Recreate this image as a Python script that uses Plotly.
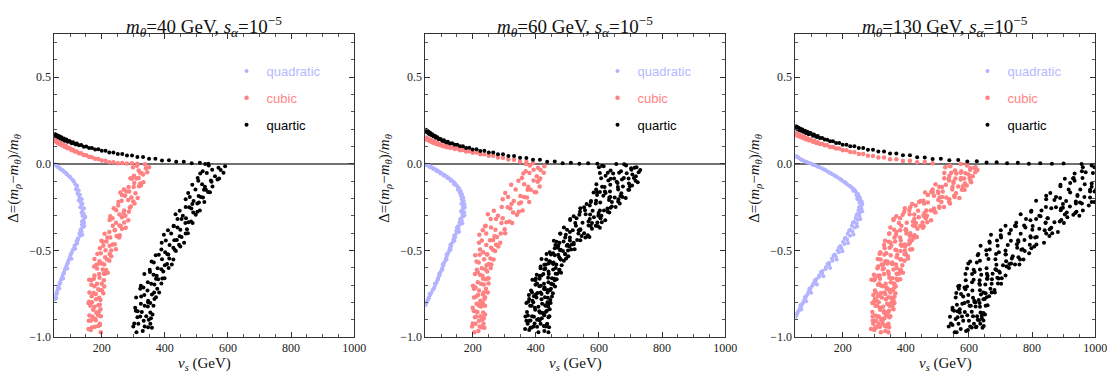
import plotly.graph_objects as go

# ---------------- data ----------------
# vertical positions (Delta) of the sampled points in the bands, two scatter sets
band_y_a = [-0.011,-0.002,-0.020,-0.039,-0.025,-0.019,-0.052,-0.048,-0.069,-0.054,
-0.085,-0.062,-0.083,-0.082,-0.106,-0.086,-0.113,-0.133,-0.110,-0.125,
-0.148,-0.133,-0.130,-0.160,-0.170,-0.166,-0.160,-0.197,-0.180,-0.195,
-0.184,-0.218,-0.220,-0.209,-0.229,-0.213,-0.253,-0.241,-0.270,-0.246,
-0.257,-0.284,-0.277,-0.268,-0.299,-0.303,-0.292,-0.326,-0.314,-0.309,
-0.340,-0.339,-0.324,-0.356,-0.369,-0.357,-0.359,-0.393,-0.382,-0.375,
-0.404,-0.384,-0.412,-0.426,-0.417,-0.444,-0.425,-0.425,-0.450,-0.466,
-0.449,-0.465,-0.488,-0.473,-0.493,-0.473,-0.500,-0.516,-0.499,-0.533,
-0.520,-0.540,-0.521,-0.563,-0.553,-0.550,-0.575,-0.559,-0.582,-0.581,
-0.575,-0.613,-0.593,-0.610,-0.629,-0.604,-0.635,-0.645,-0.636,-0.635,
-0.672,-0.658,-0.672,-0.664,-0.693,-0.670,-0.693,-0.709,-0.698,-0.729,
-0.707,-0.730,-0.743,-0.724,-0.747,-0.746,-0.773,-0.764,-0.752,-0.786,
-0.796,-0.782,-0.814,-0.800,-0.816,-0.803,-0.826,-0.840,-0.820,-0.862,
-0.842,-0.854,-0.876,-0.858,-0.880,-0.883,-0.875,-0.904,-0.896,-0.924,
-0.906,-0.903,-0.931,-0.945,-0.937,-0.954,-0.941,-0.973,-0.960]
band_y_b = [-0.001,-0.023,-0.014,-0.009,-0.035,-0.055,-0.034,-0.052,-0.043,-0.072,
-0.053,-0.090,-0.081,-0.096,-0.084,-0.118,-0.103,-0.097,-0.132,-0.131,
-0.120,-0.149,-0.164,-0.148,-0.150,-0.168,-0.186,-0.163,-0.192,-0.191,
-0.214,-0.194,-0.204,-0.229,-0.221,-0.251,-0.223,-0.249,-0.232,-0.270,
-0.271,-0.258,-0.277,-0.300,-0.281,-0.291,-0.314,-0.294,-0.318,-0.337,
-0.318,-0.333,-0.360,-0.342,-0.341,-0.367,-0.377,-0.357,-0.380,-0.401,
-0.384,-0.418,-0.402,-0.402,-0.423,-0.410,-0.441,-0.455,-0.442,-0.440,
-0.469,-0.467,-0.456,-0.485,-0.477,-0.511,-0.496,-0.494,-0.523,-0.503,
-0.528,-0.522,-0.553,-0.525,-0.547,-0.564,-0.551,-0.581,-0.570,-0.585,
-0.603,-0.579,-0.611,-0.608,-0.601,-0.640,-0.621,-0.625,-0.646,-0.661,
-0.636,-0.664,-0.662,-0.684,-0.667,-0.704,-0.693,-0.691,-0.714,-0.697,
-0.731,-0.722,-0.721,-0.754,-0.743,-0.758,-0.743,-0.766,-0.790,-0.770,
-0.772,-0.800,-0.780,-0.808,-0.804,-0.831,-0.820,-0.820,-0.852,-0.824,
-0.856,-0.858,-0.848,-0.880,-0.870,-0.881,-0.901,-0.886,-0.906,-0.892,
-0.922,-0.939,-0.923,-0.923,-0.943,-0.940,-0.965,-0.947,-0.972]

# ---- m_theta = 40 GeV ----
quad_x_40 = [52,55,58,62,66,70,75,80,86,90,96,101,107,112,116,121,118,125,123,128,
131,127,134,136,132,140,138,143,139,146,141,144,137,140,134,136,129,131,124,120,
122,114,112,108,105,101,99,95,93,89,86,83,80,77,74,71,68,65,62,60,57,55,53,51]
quad_y_40 = [-0.002,-0.008,-0.012,-0.018,-0.022,-0.031,-0.036,-0.045,-0.052,-0.060,
-0.071,-0.079,-0.092,-0.104,-0.118,-0.133,-0.146,-0.158,-0.171,-0.186,
-0.199,-0.212,-0.224,-0.238,-0.251,-0.262,-0.276,-0.288,-0.301,-0.312,
-0.327,-0.339,-0.352,-0.366,-0.378,-0.391,-0.404,-0.417,-0.431,-0.446,
-0.458,-0.472,-0.486,-0.498,-0.512,-0.526,-0.541,-0.556,-0.568,-0.583,
-0.597,-0.612,-0.627,-0.641,-0.655,-0.669,-0.684,-0.698,-0.712,-0.727,
-0.741,-0.756,-0.770,-0.783]
quad2_x_40 = [54,60,68,78,88,99,110,122,127,131,137,139,144,136,148,137,145,132,139,125,
118,116,103,104,92,91,80,78,68,66,58,56]
quad2_y_40 = [-0.005,-0.016,-0.028,-0.040,-0.057,-0.075,-0.097,-0.125,-0.152,-0.178,
-0.205,-0.231,-0.256,-0.282,-0.306,-0.333,-0.359,-0.385,-0.410,-0.438,
-0.465,-0.491,-0.519,-0.548,-0.575,-0.604,-0.633,-0.662,-0.690,-0.719,-0.748,-0.776]
cubic_curve_x_40 = [51,53,55,57,60,63,66,69,72,76,80,84,88,93,98,103,109,115,121,128,
135,143,151,160,169,179,189,200,212,224,237,251,265,280,296,313,52,56,61,67,74,82,91,106]
cubic_curve_y_40 = [0.142,0.134,0.137,0.129,0.131,0.122,0.124,0.116,0.118,0.108,
0.109,0.100,0.102,0.092,0.092,0.083,0.082,0.072,0.071,0.061,
0.061,0.051,0.049,0.039,0.038,0.029,0.028,0.019,0.018,0.010,
0.010,0.004,0.005,0.002,0.003,0.001,0.131,0.127,0.121,0.113,0.107,0.099,0.090,0.078]
quartic_curve_x_40 = [51,53,55,57,60,63,66,69,72,76,80,84,88,93,98,103,109,115,121,128,
135,143,151,160,169,179,189,200,212,224,237,251,265,280,296,313,331,350,370,391,
413,436,460,485,511,538,52,56,62,68,75,83,92,105,118]
quartic_curve_y_40 = [0.172,0.165,0.168,0.161,0.164,0.156,0.159,0.151,0.154,0.145,
0.147,0.138,0.140,0.131,0.132,0.123,0.125,0.116,0.117,0.108,
0.109,0.099,0.100,0.091,0.092,0.083,0.084,0.075,0.075,0.066,
0.066,0.057,0.057,0.048,0.048,0.039,0.039,0.030,0.030,0.020,
0.021,0.012,0.012,0.004,0.006,0.000,0.163,0.160,0.153,0.148,0.141,0.134,0.127,0.119,0.112]
cubic_band_x_40 = [312,337,350,317,340,299,322,344,302,326,
310,331,291,317,332,296,322,285,303,324,
270,301,318,278,307,259,287,314,264,294,
274,300,253,284,304,263,289,252,271,292,
238,269,286,246,275,227,256,284,234,264,
245,271,225,256,276,235,260,224,242,264,
209,241,257,218,247,199,227,255,204,235,
215,241,194,225,245,205,230,197,212,230,
186,211,225,193,217,177,201,224,183,208,
192,214,176,203,219,185,207,177,192,210,
167,193,207,175,200,160,185,208,167,193,
177,200,161,189,205,174,192,168,181,196,
160,182,194,169,189,158,177,196,164,185,
173,191,161,183,197,171,189,166,179,194,
159,181,194,169,189,158,178,197,165]
quartic_band_x_40 = [528,570,591,539,577,512,550,586,520,559,
533,567,504,546,572,518,548,506,527,551,
487,524,543,497,530,474,507,537,479,514,
491,521,466,503,525,477,508,466,487,511,
447,484,503,457,490,434,467,498,440,475,
453,483,428,465,488,440,470,428,449,473,
410,447,466,420,453,397,430,461,403,438,
415,445,390,427,449,401,431,389,411,435,
371,408,427,381,414,358,391,422,365,400,
377,407,352,389,412,364,395,353,374,399,
335,372,392,346,379,324,357,389,332,367,
345,376,322,359,382,335,366,325,347,372,
309,347,367,324,354,306,336,364,314,346,
327,354,308,341,361,322,349,313,333,356,
303,336,354,316,347,300,330,359,310]

# ---- m_theta = 60 GeV ----
quad_x_60 = [51,56,61,66,72,77,83,88,94,99,105,110,116,121,127,132,137,143,140,149,
152,157,153,162,159,166,163,170,165,172,167,174,169,171,166,173,167,170,163,165,
158,161,153,155,148,150,143,145,139,138,133,131,127,125,121,119,115,113,109,107,
103,101,97,95,91,88,85,81,78,73,69,65,61,57,54,51]
quad_y_60 = [-0.003,-0.006,-0.011,-0.015,-0.022,-0.027,-0.033,-0.039,-0.045,-0.052,
-0.058,-0.065,-0.071,-0.078,-0.086,-0.093,-0.101,-0.109,-0.117,-0.124,
-0.133,-0.141,-0.150,-0.158,-0.167,-0.176,-0.186,-0.195,-0.205,-0.214,
-0.224,-0.235,-0.246,-0.257,-0.268,-0.279,-0.291,-0.302,-0.314,-0.326,
-0.338,-0.349,-0.361,-0.373,-0.386,-0.398,-0.411,-0.423,-0.436,-0.449,
-0.462,-0.476,-0.489,-0.503,-0.517,-0.531,-0.545,-0.559,-0.573,-0.587,
-0.601,-0.615,-0.629,-0.644,-0.658,-0.672,-0.686,-0.700,-0.715,-0.729,
-0.744,-0.758,-0.772,-0.787,-0.802,-0.815]
quad2_x_60 = [53,64,75,86,97,108,119,130,144,155,161,168,164,175,163,174,160,167,150,157,
141,142,129,130,117,117,105,104,93,90,80,76,63,60,55]
quad2_y_60 = [-0.008,-0.020,-0.030,-0.043,-0.056,-0.069,-0.082,-0.097,-0.121,-0.146,
-0.171,-0.200,-0.230,-0.252,-0.274,-0.297,-0.320,-0.343,-0.367,-0.392,
-0.417,-0.443,-0.469,-0.496,-0.524,-0.552,-0.580,-0.608,-0.636,-0.665,
-0.693,-0.722,-0.751,-0.780,-0.795]
cubic_curve_x_60 = [51,53,55,57,60,63,66,69,72,76,80,84,88,93,98,103,109,115,121,128,
135,143,151,160,169,179,189,200,212,224,237,251,265,280,296,313,331,350,370,391,
52,56,62,68,75,83,92,106,118]
cubic_curve_y_60 = [0.152,0.145,0.148,0.141,0.143,0.136,0.138,0.130,0.133,0.124,
0.126,0.118,0.121,0.112,0.113,0.105,0.107,0.099,0.101,0.093,
0.095,0.086,0.088,0.079,0.080,0.072,0.073,0.064,0.065,0.056,
0.056,0.047,0.047,0.036,0.035,0.025,0.024,0.013,0.011,0.003,
0.143,0.139,0.134,0.128,0.122,0.116,0.110,0.101,0.096]
quartic_curve_x_60 = [51,53,55,57,60,63,66,69,72,76,80,84,88,93,98,103,109,115,121,128,
135,143,151,160,169,179,189,200,212,224,237,251,265,280,296,313,331,350,370,391,
413,436,460,485,511,538,566,595,52,56,62,68,75,83,92,106,118]
quartic_curve_y_60 = [0.197,0.189,0.192,0.184,0.185,0.176,0.178,0.169,0.171,0.161,
0.162,0.153,0.154,0.144,0.144,0.135,0.136,0.126,0.127,0.118,
0.119,0.110,0.111,0.101,0.102,0.092,0.093,0.083,0.084,0.074,
0.075,0.065,0.065,0.055,0.055,0.045,0.045,0.035,0.034,0.023,
0.023,0.012,0.013,0.004,0.006,0.001,0.003,0.001,
0.185,0.181,0.173,0.166,0.159,0.151,0.143,0.132,0.124]
cubic_band_x_60 = [369,407,427,381,415,360,393,425,368,403,
380,411,356,393,414,363,406,345,376,412,
322,374,401,336,384,303,351,396,312,363,
330,372,295,347,379,311,353,292,323,358,
267,319,346,280,328,248,295,340,257,307,
274,317,239,291,325,258,301,241,272,303,
232,269,289,243,277,221,255,287,229,265,
243,274,220,258,281,233,264,223,245,271,
208,246,266,222,256,212,236,259,219,244,
229,251,213,240,257,223,246,216,231,250,
207,233,248,216,241,201,226,250,209,235,
220,242,204,232,248,217,235,211,224,239,
204,225,237,212,232,200,220,239,207,227,
215,233,203,225,239,212,230,207,220,235,
200,222,234,209,229,198,218,237,205]
quartic_band_x_60a = [610,680,719,637,702,600,664,726,621,688,
648,706,607,679,723,637,695,618,659,705,
591,660,698,619,671,583,635,685,594,650,
614,661,574,632,666,591,637,571,603,641,
541,599,628,556,608,520,572,620,529,584,
548,595,509,567,603,527,574,508,541,578,
478,536,565,493,545,457,508,557,466,514,
488,520,460,498,523,471,502,455,477,503,
434,474,493,443,479,418,455,489,427,465,
441,474,415,455,480,430,463,418,441,468,
398,439,460,412,449,389,426,461,399,438,
411,445,388,428,454,405,438,394,418,446,
376,418,439,392,430,370,408,444,382,422,
398,432,375,416,443,394,427,383,408,436,
370,412,434,387,425,366,404,440,379]
quartic_band_x_60b = [655,713,615,686,731,645,703,628,670,717,
603,673,711,630,694,592,656,716,610,676,
636,693,594,661,696,621,668,603,636,675,
575,633,662,590,641,553,604,653,561,616,
580,627,540,598,633,558,605,538,571,609,
509,567,597,525,578,489,541,590,499,553,
517,564,477,535,570,495,541,475,508,531,
462,501,520,470,506,444,479,512,448,486,
460,493,433,471,496,445,478,432,456,482,
415,455,475,427,463,403,440,475,412,451,
424,458,400,440,466,416,449,404,428,455,
385,426,448,400,437,378,415,451,389,429,
402,437,379,420,447,397,431,387,411,439,
372,413,435,388,426,367,404,440,379,419,
396,431,374,415,442,393,427,383,408]

# ---- m_theta = 130 GeV ----
quad_x_130 = [51,55,59,63,68,73,78,84,90,96,102,108,114,120,127,133,139,145,151,156,
162,167,173,178,183,189,194,199,205,210,215,221,226,231,236,233,242,246,243,251,
255,249,258,253,262,255,259,250,256,247,253,241,248,236,244,229,238,224,231,216,
223,209,214,201,206,193,196,184,188,175,178,166,168,157,157,147,146,136,135,126,
124,116,114,107,104,99,96,92,89,85,82,78,75,71,68,64,61,57,54,51]
quad_y_130 = [0.047,0.041,0.036,0.031,0.025,0.021,0.016,0.012,0.007,0.003,
-0.001,-0.006,-0.010,-0.015,-0.020,-0.025,-0.031,-0.036,-0.042,-0.048,
-0.054,-0.060,-0.066,-0.072,-0.078,-0.085,-0.091,-0.098,-0.105,-0.112,
-0.119,-0.126,-0.133,-0.140,-0.148,-0.156,-0.163,-0.171,-0.180,-0.188,
-0.197,-0.206,-0.215,-0.225,-0.235,-0.246,-0.257,-0.268,-0.279,-0.290,
-0.301,-0.312,-0.323,-0.334,-0.345,-0.357,-0.368,-0.380,-0.391,-0.403,
-0.415,-0.427,-0.439,-0.451,-0.463,-0.475,-0.487,-0.499,-0.511,-0.523,
-0.535,-0.547,-0.559,-0.571,-0.583,-0.595,-0.607,-0.619,-0.631,-0.643,
-0.655,-0.667,-0.679,-0.691,-0.703,-0.715,-0.727,-0.739,-0.751,-0.763,
-0.775,-0.787,-0.799,-0.811,-0.823,-0.835,-0.847,-0.859,-0.871,-0.883]
quad2_x_130 = [57,70,87,105,124,142,159,176,192,208,224,238,249,246,261,252,262,244,256,232,
246,220,234,206,217,189,199,171,181,152,160,131,139,111,118,94,100,80,84,66,69,55]
quad2_y_130 = [0.039,0.023,0.010,-0.004,-0.018,-0.033,-0.051,-0.069,-0.088,-0.108,
-0.130,-0.152,-0.176,-0.201,-0.220,-0.251,-0.274,-0.296,-0.318,-0.340,
-0.362,-0.386,-0.408,-0.433,-0.457,-0.481,-0.505,-0.529,-0.553,-0.577,
-0.601,-0.625,-0.649,-0.673,-0.697,-0.721,-0.745,-0.769,-0.793,-0.817,-0.841,-0.865]
cubic_curve_x_130 = [51,53,55,57,60,63,66,69,72,76,80,84,88,93,98,103,109,115,121,128,
135,143,151,160,169,179,189,200,212,224,237,251,265,280,296,313,331,350,370,391,
413,436,460,485,52,56,62,68,75,83,92,106,118]
cubic_curve_y_130 = [0.177,0.171,0.174,0.166,0.169,0.162,0.164,0.157,0.159,0.151,
0.153,0.145,0.147,0.139,0.140,0.132,0.133,0.124,0.125,0.115,
0.116,0.107,0.107,0.097,0.098,0.088,0.088,0.078,0.078,0.068,
0.067,0.057,0.057,0.047,0.046,0.036,0.036,0.026,0.027,0.017,
0.018,0.009,0.011,0.003,
0.167,0.164,0.159,0.154,0.149,0.142,0.136,0.127,0.120]
quartic_curve_x_130 = [51,53,55,57,60,63,66,69,72,76,80,84,88,93,98,103,109,115,121,128,
135,143,151,160,169,179,189,200,212,224,237,251,265,280,296,313,331,350,370,391,
413,436,460,485,511,538,566,595,625,656,688,721,755,790,826,863,900,
52,56,62,68,75,83,92,106,118]
quartic_curve_y_130 = [0.217,0.210,0.214,0.206,0.208,0.200,0.203,0.195,0.198,0.189,
0.191,0.183,0.186,0.177,0.178,0.170,0.170,0.160,0.161,0.150,
0.150,0.140,0.139,0.130,0.130,0.120,0.121,0.111,0.111,0.102,
0.102,0.092,0.092,0.082,0.082,0.072,0.071,0.060,0.060,0.049,
0.049,0.038,0.037,0.028,0.030,0.021,0.022,0.014,0.015,0.008,
0.010,0.003,0.006,0.001,0.004,0.000,0.002,
0.205,0.202,0.196,0.191,0.185,0.178,0.171,0.162,0.155]
cubic_band_x_130a = [539,592,621,556,605,525,574,620,538,589,
557,599,522,575,607,536,587,515,551,593,
485,548,581,502,559,461,517,570,470,528,
489,537,442,503,540,456,506,431,465,506,
397,459,491,411,467,370,427,480,382,441,
403,453,361,423,454,386,430,370,401,437,
347,400,428,364,413,334,382,428,346,397,
366,409,333,387,420,354,397,338,370,406,
317,371,400,335,385,311,355,396,323,369,
341,381,312,361,391,330,371,317,346,378,
300,348,374,318,362,291,336,368,312,348,
327,358,305,344,367,321,353,312,335,361,
299,337,358,314,348,294,328,361,304,341,
319,345,303,332,351,315,339,306,324,345,
295,326,341,306,334,290,318,345,300]
cubic_band_x_130b = [574,617,541,594,627,560,604,544,576,612,
522,574,602,537,585,494,551,605,506,566,
527,578,485,547,586,503,553,480,515,555,
447,507,538,458,513,414,470,521,420,479,
439,489,395,456,494,412,463,390,427,468,
361,423,457,378,432,351,400,446,363,414,
382,425,348,402,435,369,412,352,384,420,
331,384,413,349,398,319,367,414,332,383,
352,396,320,373,407,342,382,328,357,389,
310,358,384,327,371,299,344,385,312,358,
331,371,302,352,382,322,363,316,339,364,
302,340,361,317,351,297,332,364,308,345,
324,355,302,341,364,318,349,309,331,357,
294,331,347,311,338,295,322,348,303,332,
314,340,297,327,347,310,335,303,321]
quartic_band_x_130a = [957,1054,1105,989,1078,935,1023,1106,958,1050,
993,1070,932,1028,1088,967,1043,935,989,1052,
890,984,1034,916,1003,858,944,1025,876,966,
908,984,845,939,998,876,952,844,898,961,
798,892,941,823,910,764,850,931,781,871,
813,888,749,843,901,779,856,746,801,864,
701,795,845,728,815,670,756,838,689,776,
723,793,666,753,807,695,766,666,717,777,
628,716,762,656,736,604,684,760,625,708,
656,728,615,684,727,639,696,618,659,704,
589,657,694,610,673,570,633,692,586,652,
611,668,568,638,682,598,646,582,617,656,
558,618,650,579,634,548,602,653,564,621,
587,637,553,613,651,578,628,564,600,641,
543,604,636,567,622,536,591,643,555]
quartic_band_x_130b = [1020,1099,961,1057,1118,998,1077,970,1026,1091,
930,1025,1076,960,1048,904,989,1071,921,1011,
953,1029,890,984,1043,921,998,889,944,1007,
845,939,989,871,958,813,898,980,830,920,
861,937,797,891,950,827,904,795,849,912,
750,843,893,775,861,716,802,882,733,823,
764,840,701,796,855,733,810,702,757,814,
665,752,798,691,770,637,716,791,655,739,
686,757,630,718,773,662,734,635,687,746,
598,687,719,635,698,594,657,716,610,675,
634,690,590,659,702,615,672,594,635,681,
566,635,672,589,653,560,613,664,575,631,
597,646,562,621,659,586,635,571,606,646,
548,609,641,571,626,540,595,646,558,616,
582,632,548,609,647,574,624,561,597]

masses = ["40", "60", "130"]
series_names = ["quadratic", "cubic", "quartic"]
x_ticks = [200, 400, 600, 800, 1000]
y_ticks = [-1.0, -0.5, 0.0, 0.5]

# ---------------- assemble ----------------
for lst in [band_y_b, cubic_band_x_40, quartic_band_x_40, cubic_band_x_60, quartic_band_x_60a,
            quartic_band_x_60b, cubic_band_x_130a, cubic_band_x_130b,
            quartic_band_x_130a, quartic_band_x_130b]:
    assert len(lst) == len(band_y_a), len(lst)
for a, b in [(quad_x_40, quad_y_40), (quad_x_60, quad_y_60), (quad_x_130, quad_y_130),
             (quad2_x_40, quad2_y_40), (quad2_x_60, quad2_y_60), (quad2_x_130, quad2_y_130),
             (cubic_curve_x_40, cubic_curve_y_40), (cubic_curve_x_60, cubic_curve_y_60),
             (cubic_curve_x_130, cubic_curve_y_130), (quartic_curve_x_40, quartic_curve_y_40),
             (quartic_curve_x_60, quartic_curve_y_60), (quartic_curve_x_130, quartic_curve_y_130)]:
    assert len(a) == len(b), (len(a), len(b))

panel_data = [
    dict(quad=(quad_x_40 + quad2_x_40, quad_y_40 + quad2_y_40),
         cubic=(cubic_curve_x_40 + cubic_band_x_40, cubic_curve_y_40 + band_y_a),
         quartic=(quartic_curve_x_40 + quartic_band_x_40, quartic_curve_y_40 + band_y_b)),
    dict(quad=(quad_x_60 + quad2_x_60, quad_y_60 + quad2_y_60),
         cubic=(cubic_curve_x_60 + cubic_band_x_60, cubic_curve_y_60 + band_y_b),
         quartic=(quartic_curve_x_60 + quartic_band_x_60a + quartic_band_x_60b,
                  quartic_curve_y_60 + band_y_a + band_y_b)),
    dict(quad=(quad_x_130 + quad2_x_130, quad_y_130 + quad2_y_130),
         cubic=(cubic_curve_x_130 + cubic_band_x_130a + cubic_band_x_130b,
                cubic_curve_y_130 + band_y_a + band_y_b),
         quartic=(quartic_curve_x_130 + quartic_band_x_130a + quartic_band_x_130b,
                  quartic_curve_y_130 + band_y_b + band_y_a)),
]

W, H = 1119, 373
MT, MB = 34, 36
PH = H - MT - MB           # plot height in px
panel_left = [55, 430, 804]
PW = 303

COL_Q, COL_C, COL_K = "#b3b3ff", "#ff8080", "#000000"
TXT_Q, TXT_C, TXT_K = "#b8b8ff", "#ff8585", "#000000"
SERIF = "Liberation Serif"
SANS = "Liberation Sans"

fig = go.Figure()
layout = dict(width=W, height=H, margin=dict(l=0, r=0, t=MT, b=MB),
              paper_bgcolor="white", plot_bgcolor="white", showlegend=True,
              font=dict(family=SERIF, size=12, color="#222222"))
annotations = []

def ypix(p):
    return (H - MB - p) / PH

for k, pdat in enumerate(panel_data):
    sfx = "" if k == 0 else str(k + 1)
    xa, ya = "x" + sfx, "y" + sfx
    leg = "legend" + sfx
    styles = [("quad", COL_Q, TXT_Q, 4.0), ("cubic", COL_C, TXT_C, 4.5), ("quartic", COL_K, TXT_K, 4.0)]
    for (key, col, tcol, sz), nm in zip(styles, series_names):
        xs, ys = pdat[key]
        fig.add_trace(go.Scatter(
            x=xs, y=ys, mode="markers", xaxis=xa, yaxis=ya,
            marker=dict(color=col, size=sz, line=dict(width=0)),
            name="<span style='color:%s'>%s</span>" % (tcol, nm),
            legend=leg, legendgroup=nm + sfx, hoverinfo="skip"))
    d0 = panel_left[k] / W
    d1 = (panel_left[k] + PW) / W
    common = dict(showline=True, linecolor="#333333", linewidth=1, mirror="allticks",
                  ticks="inside", ticklen=5, tickwidth=1, tickcolor="#333333",
                  showgrid=False, tickfont=dict(family=SERIF, size=12, color="#222222"))
    layout["xaxis" + sfx] = dict(domain=[d0, d1], range=[50, 1000], anchor=ya,
                                 tickmode="array", tickvals=x_ticks,
                                 ticktext=[str(v) for v in x_ticks], zeroline=False,
                                 minor=dict(ticks="inside", ticklen=3, tickcolor="#555555",
                                            tickmode="linear", tick0=0, dtick=50),
                                 **common)
    layout["yaxis" + sfx] = dict(domain=[0, 1], range=[-1.0, 0.75], anchor=xa,
                                 tickmode="array", tickvals=y_ticks,
                                 ticktext=[("%.1f" % v).replace("-", "\u2212") for v in y_ticks],
                                 zeroline=True, zerolinecolor="#707070", zerolinewidth=1.5,
                                 minor=dict(ticks="inside", ticklen=3, tickcolor="#555555",
                                            tickmode="linear", tick0=0, dtick=0.1),
                                 **common)
    layout[leg] = dict(x=(panel_left[k] + 174) / W, y=ypix(56), xanchor="left", yanchor="top",
                       bgcolor="rgba(0,0,0,0)", borderwidth=0, tracegroupgap=7,
                       itemsizing="trace", font=dict(family=SANS, size=13, color="#000000"))
    cx = (d0 + d1) / 2
    annotations.append(dict(
        text="<i>m</i><sub><i>\u03b8</i></sub>=%s GeV, <i>s</i><sub><i>\u03b1</i></sub>=10<sup>\u22125</sup>" % masses[k],
        x=cx, y=1.0, xref="paper", yref="paper", xanchor="center", yanchor="bottom",
        yshift=-8, showarrow=False, font=dict(family=SERIF, size=19, color="#111111")))
    annotations.append(dict(
        text="<i>\u03bd</i><sub><i>s</i></sub> (GeV)", x=cx, y=ypix(353), xref="paper", yref="paper",
        xanchor="center", yanchor="top", showarrow=False,
        font=dict(family=SERIF, size=15, color="#111111")))
    annotations.append(dict(
        text="\u0394=(<i>m</i><sub><i>\u03c1</i></sub>\u2212<i>m</i><sub><i>\u03b8</i></sub>)/<i>m</i><sub><i>\u03b8</i></sub>",
        x=(panel_left[k] - 41) / W, y=ypix(178), xref="paper", yref="paper",
        xanchor="center", yanchor="middle", textangle=-90, showarrow=False,
        font=dict(family=SERIF, size=15, color="#111111")))

layout["annotations"] = annotations
fig.update_layout(**layout)
# the page body has a default 8px margin; remove it so the figure fills the window exactly
fig.write_html("out.html", config={"displayModeBar": False, "staticPlot": True},
               post_script="document.body.style.margin='0px';")
